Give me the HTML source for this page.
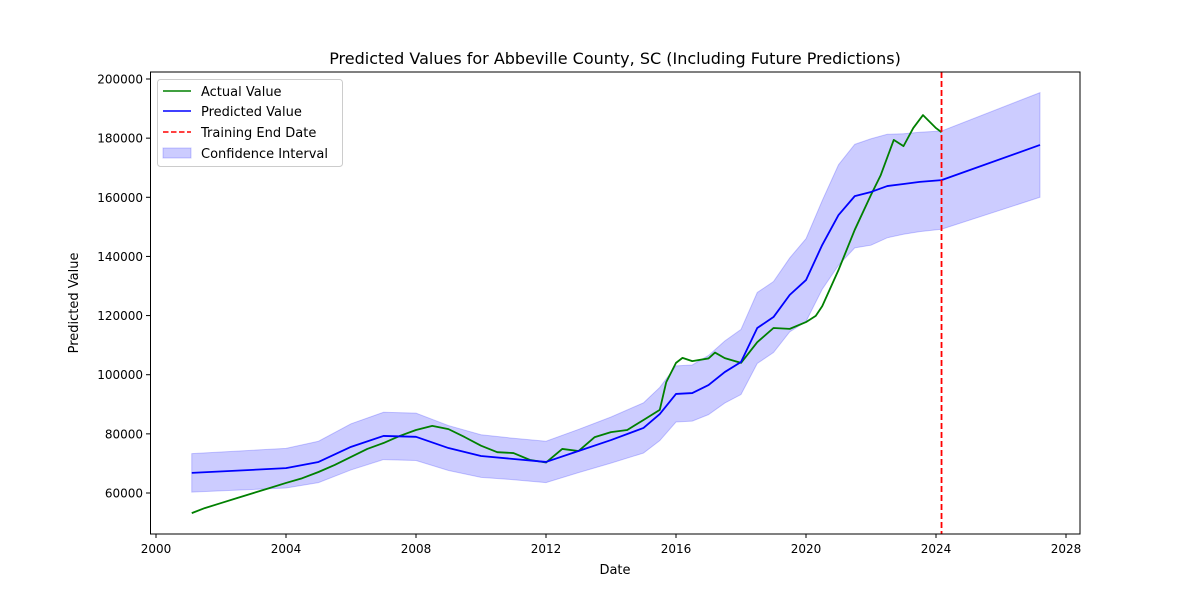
<!DOCTYPE html>
<html><head><meta charset="utf-8"><style>
body{margin:0;background:#fff;}
svg{font-family:"DejaVu Sans","Liberation Sans",sans-serif;}
</style></head><body>
<svg id="chart" width="1200" height="600" viewBox="0 0 1200 600">
<text x="615" y="64" text-anchor="middle" font-size="16">Predicted Values for Abbeville County, SC (Including Future Predictions)</text>
<g id="plot"></g>
<rect x="150.5" y="72" width="929.5" height="462" fill="none" stroke="#000" stroke-width="1"/>
<text x="615" y="574" text-anchor="middle" font-size="13">Date</text>
<text x="0" y="0" transform="translate(78,303) rotate(-90)" text-anchor="middle" font-size="13">Predicted Value</text>
<g>
<rect x="157.5" y="79.5" width="185" height="87" rx="3" fill="#fff" fill-opacity="0.8" stroke="#ccc"/>
<line x1="163" y1="91" x2="191" y2="91" stroke="green" stroke-width="1.5"/>
<text x="201" y="96" font-size="13">Actual Value</text>
<line x1="163" y1="111" x2="191" y2="111" stroke="blue" stroke-width="1.5"/>
<text x="201" y="116" font-size="13">Predicted Value</text>
<line x1="163" y1="132" x2="191" y2="132" stroke="red" stroke-width="1.5" stroke-dasharray="5.5,2.5"/>
<text x="201" y="137" font-size="13">Training End Date</text>
<rect x="163" y="148" width="28" height="10" fill="#0000ff" fill-opacity="0.2" stroke="#0000ff" stroke-opacity="0.2"/>
<text x="201" y="158" font-size="13">Confidence Interval</text>
</g>
</svg>
<script>
const actualDates=[2001.1,2001.5,2002,2002.5,2003,2003.5,2004,2004.5,2005,2005.5,2006,2006.5,2007,2007.5,2008,2008.5,2009,2009.5,2010,2010.5,2011,2011.5,2012,2012.5,2013,2013.5,2014,2014.5,2015,2015.5,2015.7,2016,2016.2,2016.5,2017,2017.2,2017.5,2018,2018.5,2019,2019.5,2020,2020.3,2020.5,2021,2021.5,2022,2022.3,2022.7,2023,2023.3,2023.6,2024,2024.17];
const actualValues=[53200,54900,56600,58300,60000,61700,63400,65000,67100,69500,72200,74900,76900,79300,81300,82700,81600,78900,76000,73800,73500,71200,70300,74900,74200,78900,80600,81300,84700,88100,97500,104000,105700,104600,105500,107500,105600,104000,111000,115800,115500,117800,119900,123200,135400,149000,160800,167500,179400,177300,183400,187800,183400,182000];
const predDates=[2001.1,2004,2005,2006,2007,2008,2009,2010,2011,2012,2013,2014,2015,2015.5,2016,2016.5,2017,2017.5,2018,2018.5,2019,2019.5,2020,2020.5,2021,2021.5,2022,2022.5,2023,2023.5,2024.17,2027.2];
const predValues=[66800,68400,70500,75600,79300,79000,75200,72500,71500,70500,74200,77900,82000,86700,93500,93800,96500,100900,104300,115800,119500,127000,132000,143900,154000,160400,161800,163800,164500,165200,165800,177700];
const ciHalf=[6500,6700,7000,7800,8000,8000,7600,7200,7000,7000,7300,7800,8500,9000,9500,9500,10000,10500,11000,12000,12000,12500,14000,15000,17000,17500,18000,17500,17000,16800,16600,17700];
const xTicks=[2000,2004,2008,2012,2016,2020,2024,2028];
const yTicks=[60000,80000,100000,120000,140000,160000,180000,200000];
const trainEnd=2024.17;
const X=d=>156+(d-2000)*32.5;
const Y=v=>493-(v-60000)*414/140000;
const NS="http://www.w3.org/2000/svg";
const g=document.getElementById('plot');
function mk(t,a){const e=document.createElementNS(NS,t);for(const k in a)e.setAttribute(k,a[k]);g.appendChild(e);return e;}
let up=predDates.map((d,i)=>X(d)+','+Y(predValues[i]+ciHalf[i]));
let lo=predDates.map((d,i)=>X(d)+','+Y(predValues[i]-ciHalf[i])).reverse();
const band=mk('polygon',{points:up.concat(lo).join(' '),fill:'#0000ff','fill-opacity':0.2,stroke:'#0000ff','stroke-opacity':0.2});


const al=mk('polyline',{points:actualDates.map((d,i)=>X(d)+','+Y(actualValues[i])).join(' '),fill:'none',stroke:'green','stroke-width':1.8,'stroke-linejoin':'round'});


const pl=mk('polyline',{points:predDates.map((d,i)=>X(d)+','+Y(predValues[i])).join(' '),fill:'none',stroke:'blue','stroke-width':1.8,'stroke-linejoin':'round'});


const rl=mk('line',{x1:X(trainEnd),x2:X(trainEnd),y1:72,y2:534,stroke:'red','stroke-width':1.8,'stroke-dasharray':'6,3'});


xTicks.forEach(t=>{
 const l=mk('line',{x1:X(t),x2:X(t),y1:534,y2:538,stroke:'#000'});
 
 
 const tx=mk('text',{x:X(t),y:553,'text-anchor':'middle','font-size':12});tx.textContent=t;
 
 
});
yTicks.forEach(t=>{
 const l=mk('line',{x1:146,x2:150.5,y1:Y(t),y2:Y(t),stroke:'#000'});
 
 
 const tx=mk('text',{x:143,y:Y(t)+4.5,'text-anchor':'end','font-size':12});tx.textContent=t;
 
 
});
</script>
</body></html>
